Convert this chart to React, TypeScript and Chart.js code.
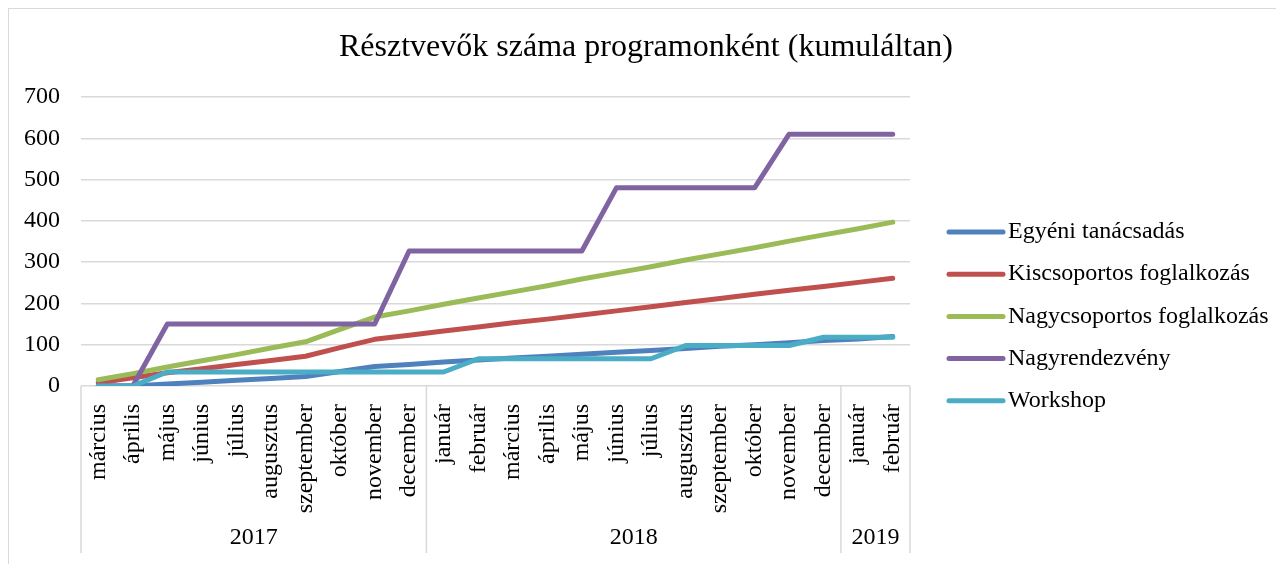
import React, { useEffect, useRef } from 'react';
import { Chart, registerables } from 'chart.js';

Chart.register(...registerables);

const months = [
  'március', 'április', 'május', 'június', 'július', 'augusztus', 'szeptember', 'október', 'november', 'december',
  'január', 'február', 'március', 'április', 'május', 'június', 'július', 'augusztus', 'szeptember', 'október', 'november', 'december',
  'január', 'február',
];
const years = ['2017', '2018', '2019'];
const yearMonthCounts = [10, 12, 2];

const seriesNames = [
  'Egyéni tanácsadás',
  'Kiscsoportos foglalkozás',
  'Nagycsoportos foglalkozás',
  'Nagyrendezvény',
  'Workshop',
];
const seriesColors = ['#4F81BD', '#C0504D', '#9BBB59', '#8064A2', '#4BACC6'];

const egyeniTanacsadas = [0, 0, 5, 9, 14, 18, 23, 35, 47, 52, 58, 63, 68, 72, 77, 82, 86, 91, 96, 100, 105, 110, 114, 120];
const kiscsoportos = [8, 20, 32, 42, 52, 62, 72, 93, 113, 123, 133, 143, 153, 162, 172, 182, 192, 202, 212, 222, 232, 241, 251, 261];
const nagycsoportos = [15, 30, 46, 61, 76, 92, 107, 137, 167, 182, 198, 213, 228, 243, 259, 274, 289, 305, 320, 335, 351, 366, 381, 397];
const nagyrendezveny = [0, 0, 150, 150, 150, 150, 150, 150, 150, 327, 327, 327, 327, 327, 327, 480, 480, 480, 480, 480, 610, 610, 610, 610];
const workshop = [0, 0, 34, 34, 34, 34, 34, 34, 34, 34, 34, 66, 66, 66, 66, 66, 66, 98, 98, 98, 98, 118, 118, 118];

const seriesValues = [egyeniTanacsadas, kiscsoportos, nagycsoportos, nagyrendezveny, workshop];

const titleText = 'Résztvevők száma programonként (kumuláltan)';
const yMin = 0;
const yMax = 700;
const yStep = 100;

const FONT = "'Liberation Serif', 'Times New Roman', serif";

const decorPlugin = {
  id: 'decor',
  beforeDraw(chart: any) {
    const ctx = chart.ctx;
    ctx.save();
    ctx.strokeStyle = '#d9d9d9';
    ctx.lineWidth = 1;
    ctx.strokeRect(0.5, 0.5, chart.width + 20, chart.height + 20);
    ctx.restore();
  },
  afterDraw(chart: any) {
    const { ctx, chartArea } = chart;
    const x = chart.scales.x;
    const top = chartArea.bottom;
    const bottom = x.bottom;
    const half = (x.getPixelForValue(1) - x.getPixelForValue(0)) / 2;
    const bounds: number[] = [chartArea.left];
    let idx = 0;
    yearMonthCounts.forEach((c) => {
      idx += c;
      bounds.push(x.getPixelForValue(idx - 1) + half);
    });
    ctx.save();
    ctx.strokeStyle = '#d9d9d9';
    ctx.lineWidth = 1.5;
    bounds.forEach((b) => {
      ctx.beginPath();
      ctx.moveTo(b, top);
      ctx.lineTo(b, bottom);
      ctx.stroke();
    });
    ctx.fillStyle = '#000';
    ctx.font = `24px ${FONT}`;
    ctx.textAlign = 'center';
    ctx.textBaseline = 'middle';
    years.forEach((y, i) => {
      ctx.fillText(y, (bounds[i] + bounds[i + 1]) / 2, bottom - 15);
    });

    // legend
    const lx0 = chartArea.right + 39;
    const lx1 = chartArea.right + 93;
    const tx = chartArea.right + 98;
    const ly0 = chartArea.top + 135;
    const gap = 42.2;
    chart.data.datasets.forEach((ds: any, i: number) => {
      const yy = ly0 + i * gap;
      ctx.strokeStyle = ds.borderColor;
      ctx.lineWidth = 5;
      ctx.lineCap = 'round';
      ctx.beginPath();
      ctx.moveTo(lx0, yy);
      ctx.lineTo(lx1, yy);
      ctx.stroke();
      ctx.fillStyle = '#000';
      ctx.textAlign = 'left';
      ctx.textBaseline = 'middle';
      ctx.fillText(ds.label, tx, yy);
    });
    ctx.restore();
  },
};

export default function App() {
  const ref = useRef<HTMLCanvasElement | null>(null);

  useEffect(() => {
    if (!ref.current) return;
    const chart = new Chart(ref.current, {
      type: 'line',
      data: {
        labels: months,
        datasets: seriesValues.map((vals, i) => ({
          label: seriesNames[i],
          data: vals,
          borderColor: seriesColors[i],
          backgroundColor: seriesColors[i],
          borderWidth: 5,
          pointRadius: 0,
          pointHoverRadius: 0,
          tension: 0,
          fill: false,
          borderCapStyle: 'round',
          borderJoinStyle: 'round',
          order: 5 - i,
        })),
      },
      options: {
        responsive: false,
        animation: false,
        events: [],
        layout: { padding: { left: 0, right: 0, top: 0, bottom: 11 } },
        plugins: {
          legend: { display: false },
          tooltip: { enabled: false },
          title: {
            display: true,
            text: titleText,
            color: '#000',
            font: { family: FONT, size: 32, weight: 'normal' },
            padding: { top: 20, bottom: 30.6 },
          },
        },
        scales: {
          x: {
            type: 'category',
            offset: true,
            grid: { display: false },
            border: { display: false },
            ticks: {
              autoSkip: false,
              minRotation: 90,
              maxRotation: 90,
              padding: 10,
              color: '#000',
              font: { family: FONT, size: 24 },
            },
            afterFit: (s: any) => {
              s.height = 167;
            },
          },
          y: {
            type: 'linear',
            position: 'left',
            min: yMin,
            max: yMax,
            grid: { color: '#d9d9d9', lineWidth: 1.5, drawTicks: false },
            border: { display: false },
            ticks: {
              stepSize: yStep,
              padding: 21,
              color: '#000',
              font: { family: FONT, size: 24 },
            },
            afterFit: (s: any) => {
              s.width = 73;
            },
          },
          spacer: {
            type: 'linear',
            position: 'right',
            display: true,
            grid: { display: false, drawTicks: false },
            border: { display: false },
            ticks: { display: false },
            afterFit: (s: any) => {
              s.width = 374;
            },
          },
        },
      },
      plugins: [decorPlugin],
    } as any);
    return () => chart.destroy();
  }, []);

  return (
    <div style={{ width: 1276, height: 556 }}>
      <canvas ref={ref} width={1276} height={556} style={{ display: 'block' }} />
    </div>
  );
}
